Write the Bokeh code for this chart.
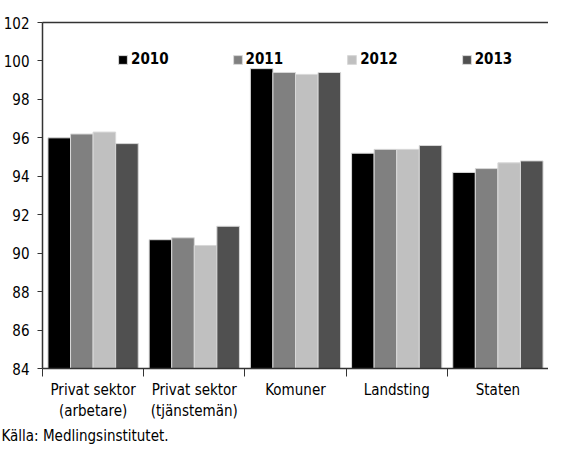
import numpy as np
from bokeh.plotting import figure
from bokeh.models import (ColumnDataSource, FixedTicker, LinearAxis, Legend, LegendItem,
                          Range1d, Title)
from bokeh.embed import file_html
from bokeh.resources import INLINE

categories = ["Privat sektor\n(arbetare)", "Privat sektor\n(tjänstemän)", "Komuner", "Landsting", "Staten"]
years = ["2010", "2011", "2012", "2013"]
v2010 = [96.0, 90.7, 99.6, 95.2, 94.2]
v2011 = [96.2, 90.8, 99.4, 95.4, 94.4]
v2012 = [96.3, 90.4, 99.3, 95.4, 94.7]
v2013 = [95.7, 91.4, 99.4, 95.6, 94.8]
y_ticks = [84, 86, 88, 90, 92, 94, 96, 98, 100, 102]
source_text = "Källa: Medlingsinstitutet."

colors = ["#000000", "#808080", "#c0c0c0", "#505050"]
FONT = "DejaVu Sans Condensed"

centers = np.arange(len(categories)) + 0.5
series = [v2010, v2011, v2012, v2013]

p = figure(frame_width=506, frame_height=346, output_backend="svg", toolbar_location=None,
           x_range=Range1d(0, len(categories) * 1.0), y_range=Range1d(84, 102),
           min_border_left=41, min_border_right=0, min_border_top=22, min_border_bottom=0)
p.xgrid.visible = False
p.ygrid.visible = False
p.outline_line_color = None
p.background_fill_color = "white"

bw = 0.223
offsets = [-1.5 * bw, -0.5 * bw, 0.5 * bw, 1.5 * bw]
renderers = []
for vals, off, c in zip(series, offsets, colors):
    src = ColumnDataSource(dict(x=centers + off, top=vals))
    r = p.vbar(x="x", top="top", bottom=84, width=bw, source=src,
               fill_color=c, line_color="#d8d8d8", line_width=1)
    renderers.append(r)

# x axis
xa = p.xaxis[0]
xa.ticker = FixedTicker(ticks=list(centers), minor_ticks=list(range(len(categories) + 1)))
xa.major_label_overrides = {float(c): lab for c, lab in zip(centers, categories)}
xa.major_tick_line_color = None
xa.major_tick_out = 0
xa.major_tick_in = 0
xa.minor_tick_line_color = "#333333"
xa.minor_tick_in = 0
xa.minor_tick_out = 8
xa.axis_line_color = "#333333"
xa.axis_line_width = 1.5
xa.major_label_text_font = FONT
xa.major_label_text_font_size = "15px"
xa.major_label_text_color = "#000000"
xa.major_label_standoff = 4

# y axis
ya = p.yaxis[0]
ya.ticker = FixedTicker(ticks=y_ticks, minor_ticks=[])
ya.major_tick_in = 0
ya.major_tick_out = 5
ya.major_tick_line_color = "#333333"
ya.axis_line_color = "#333333"
ya.axis_line_width = 1.5
ya.major_label_text_font = FONT
ya.major_label_text_font_size = "15px"
ya.major_label_text_color = "#000000"
ya.major_label_standoff = 8

# top border line
top = LinearAxis(ticker=FixedTicker(ticks=[]), major_label_text_font_size="0px",
                 major_tick_line_color=None, minor_tick_line_color=None,
                 axis_line_color="#333333", axis_line_width=1.5)
p.add_layout(top, "above")

items = [LegendItem(label=y, renderers=[r]) for y, r in zip(years, renderers)]
leg = Legend(items=items, orientation="horizontal", location=(75, 300),
             border_line_color=None, background_fill_alpha=0,
             label_text_font=FONT, label_text_font_style="bold",
             label_text_color="#000000",
             label_text_font_size="15px", glyph_width=11, glyph_height=11,
             label_standoff=3, spacing=63, padding=0, margin=0)
p.add_layout(leg, "center")

t = Title(text=source_text, text_font=FONT, text_font_size="15px",
          text_font_style="normal", text_color="#000000", align="left", offset=-41,
          standoff=2)
p.add_layout(t, "below")

open("out.html", "w").write(file_html(p, INLINE))
